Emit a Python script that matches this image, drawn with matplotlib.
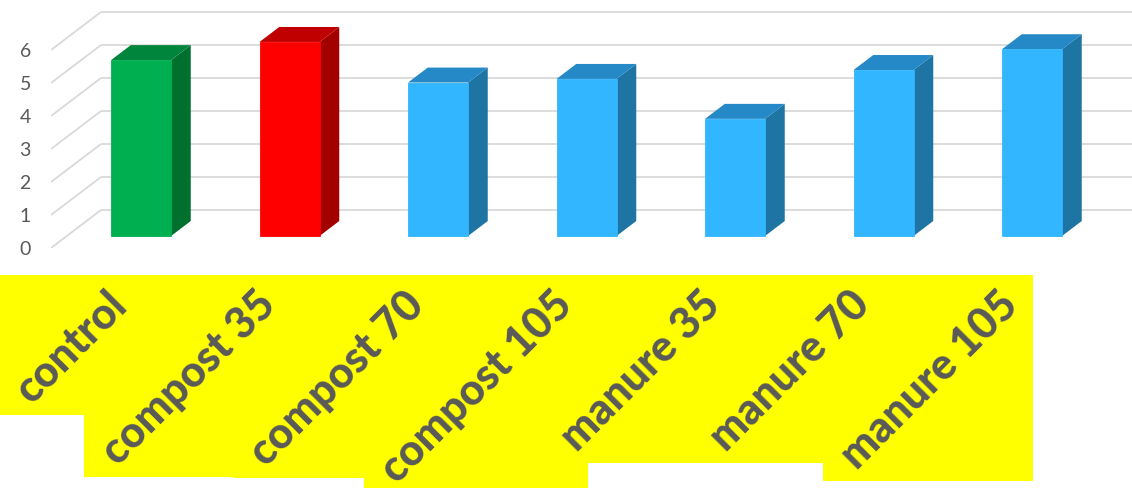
import matplotlib
matplotlib.use("Agg")
import matplotlib.pyplot as plt
from matplotlib.patches import Polygon, Rectangle

categories = ["control", "compost 35", "compost 70", "compost 105",
              "manure 35", "manure 70", "manure 105"]
values = [5.33, 5.88, 4.65, 4.76, 3.55, 5.03, 5.66]
y_ticks = [0, 1, 2, 3, 4, 5, 6]

# front / top / side shades for each bar
face_colors = ["#00B050", "#FF0000"] + ["#31B6FF"] * 5
top_colors = ["#00863C", "#C00000"] + ["#2489C6"] * 5
side_colors = ["#00702F", "#A30000"] + ["#1E74A2"] * 5

W, H = 1132, 488
px_cat = 148.5   # pixels per category
px_val = 33.0    # pixels per unit of value
left_px = 51
zero_px = 248    # front floor line (value 0), from top

fig = plt.figure(figsize=(W / 100, H / 100), dpi=100)
ax = fig.add_axes([left_px / W, (H - zero_px) / H,
                   (W - left_px) / W, 7.5 * px_val / H])
ax.set_xlim(-0.5, -0.5 + (W - left_px) / px_cat)
ax.set_ylim(0, 7.5)
for s in ax.spines.values():
    s.set_visible(False)
ax.patch.set_visible(False)

# oblique depth of the floor, in data units
dx = 50 / px_cat
dy = 38 / px_val
f_front, f_back = 0.316, 0.71
bar_w = 60 / px_cat

# floor diagonals + back wall gridlines
for v in y_ticks:
    ax.plot([-0.5, -0.5 + dx], [v, v + dy], color="#d9d9d9", lw=1.3,
            zorder=1, solid_capstyle="butt")
    ax.plot([-0.5 + dx, 8], [v + dy, v + dy], color="#d9d9d9", lw=1.3,
            zorder=1, solid_capstyle="butt")

# 3d-looking columns
for i, v in enumerate(values):
    x0 = i - bar_w / 2 + f_front * dx
    x1 = i + bar_w / 2 + f_front * dx
    y0 = f_front * dy
    ddx = (f_back - f_front) * dx
    ddy = (f_back - f_front) * dy
    front = [(x0, y0), (x1, y0), (x1, y0 + v), (x0, y0 + v)]
    top = [(x0, y0 + v), (x1, y0 + v), (x1 + ddx, y0 + v + ddy),
           (x0 + ddx, y0 + v + ddy)]
    side = [(x1, y0), (x1 + ddx, y0 + ddy), (x1 + ddx, y0 + v + ddy),
            (x1, y0 + v)]
    ax.add_patch(Polygon(side, closed=True, fc=side_colors[i], ec="none", zorder=3))
    ax.add_patch(Polygon(top, closed=True, fc=top_colors[i], ec="none", zorder=3))
    ax.add_patch(Polygon(front, closed=True, fc=face_colors[i],
                         ec=face_colors[i], lw=0.6, zorder=4))

ax.set_xticks([])
ax.set_yticks(y_ticks)
ax.set_yticklabels([str(t) for t in y_ticks], family="Lato")
ax.tick_params(axis="y", length=0, pad=14.5, labelsize=14, labelcolor="#595959")

# rotated category labels on a yellow backing
labels = []
for i, name in enumerate(categories):
    t = ax.text(i + 9 / px_cat, -36 / px_val, name, rotation=45,
                ha="right", va="top", fontsize=31, fontweight="black",
                family="Lato", color="#595959", clip_on=False, zorder=6)
    labels.append(t)

fig.canvas.draw()
renderer = fig.canvas.get_renderer()
to_fig = fig.transFigure.inverted()
for t in labels:
    bb = t.get_window_extent(renderer)
    (fx0, fy0), (fx1, fy1) = to_fig.transform([(bb.x0 - 10, bb.y0 - 5),
                                                (bb.x1 + 8, bb.y1 + 9)])
    fig.add_artist(Rectangle((fx0, fy0), fx1 - fx0, fy1 - fy0,
                             transform=fig.transFigure, fc="#FFFF00",
                             ec="none", zorder=0))

fig.savefig("out.png", dpi=100, facecolor="white")
